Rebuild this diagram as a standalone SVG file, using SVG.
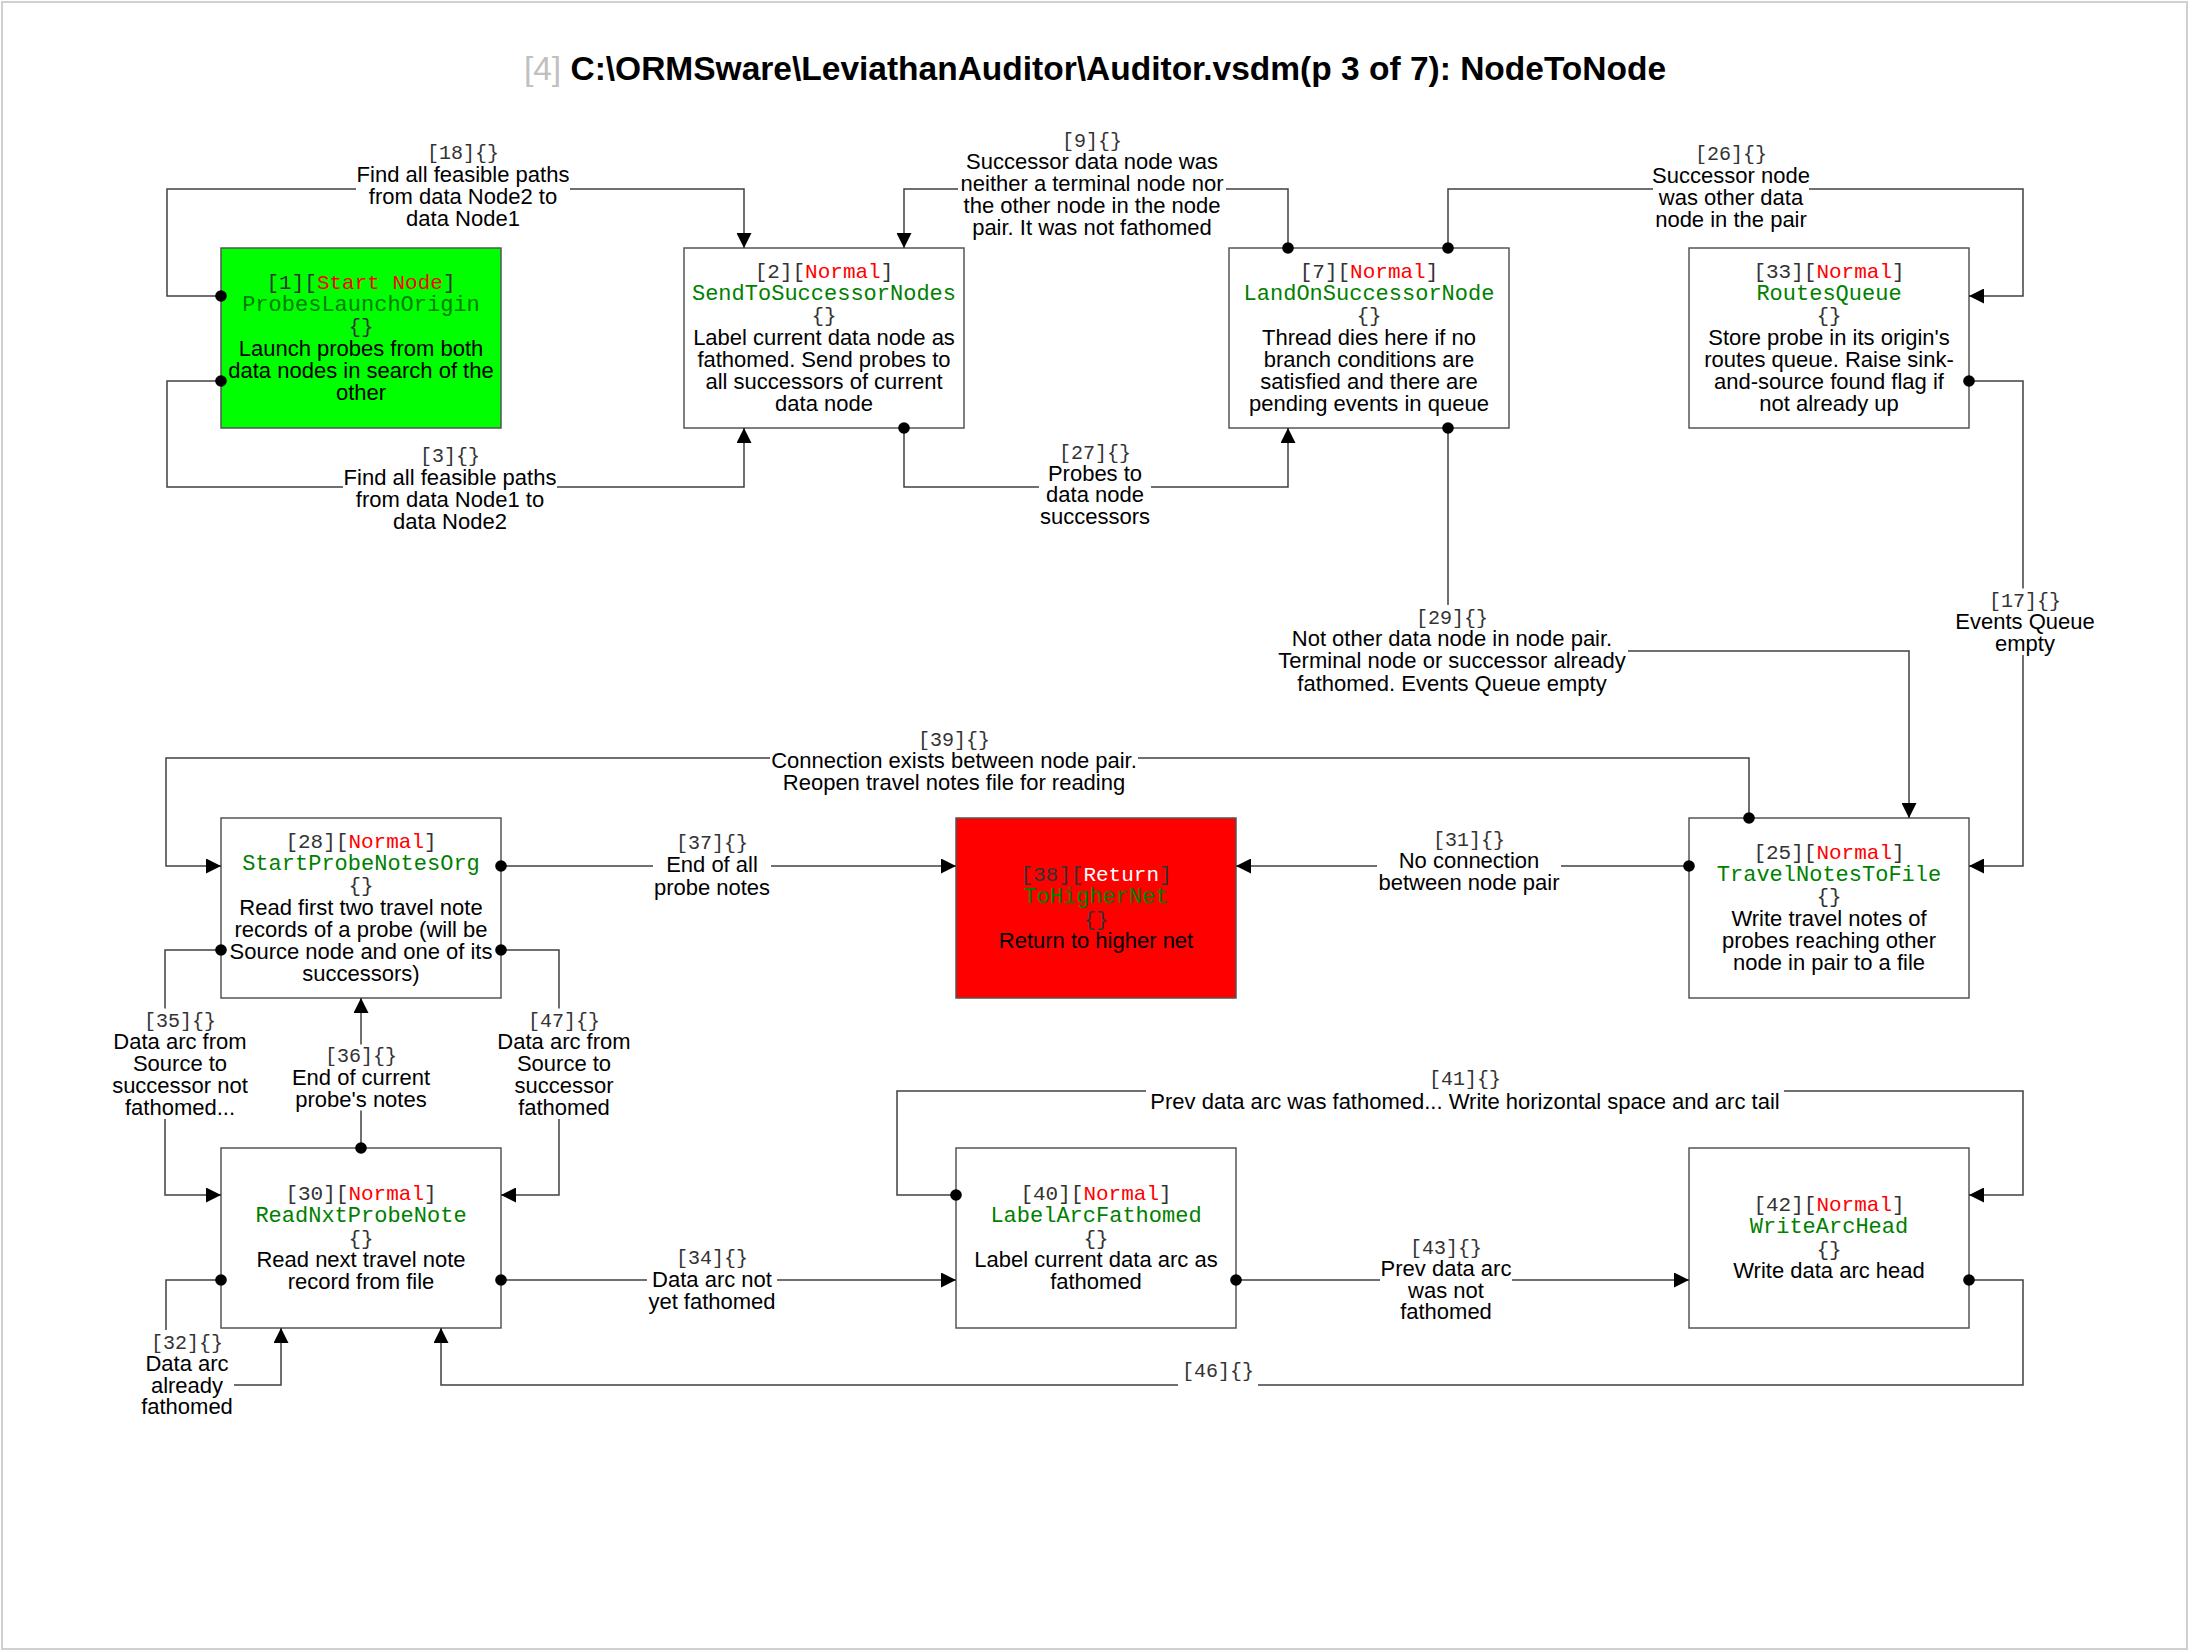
<svg xmlns="http://www.w3.org/2000/svg" width="2190" height="1652" viewBox="0 0 2190 1652">
<style>
.frame{fill:#fff;stroke:#d0d0d0;stroke-width:2}
.box{fill:#fff;stroke:#555;stroke-width:1.5}
text{text-anchor:middle}
.mono{font-family:"Liberation Mono","Courier New",monospace}
.hdr{font-size:21px;fill:#333}
.kind{fill:#ff0000}
.name{font-size:22px;fill:#008000}
.sans{font-family:"Liberation Sans",Arial,sans-serif;font-size:22px;fill:#000}
.lid{font-size:20px;fill:#333}
.wire{fill:none;stroke:#404040;stroke-width:1.5;marker-start:url(#dot);marker-end:url(#arr)}
.bg{fill:#fff}
</style>
<defs>
<marker id="arr" markerUnits="userSpaceOnUse" markerWidth="15" markerHeight="15" refX="15" refY="7.5" orient="auto"><path d="M0,0 L15,7.5 L0,15 z" fill="#000"/></marker>
<marker id="dot" markerUnits="userSpaceOnUse" markerWidth="14" markerHeight="14" refX="7" refY="7" orient="auto"><circle cx="7" cy="7" r="5.8" fill="#000"/></marker>
</defs>
<rect class="frame" x="2" y="2" width="2185" height="1647"/>
<text x="1095" y="80" font-family="Liberation Sans, Arial, sans-serif" font-size="33.5" font-weight="bold" fill="#000"><tspan fill="#c0c0c0" font-weight="normal">[4]</tspan> C:\ORMSware\LeviathanAuditor\Auditor.vsdm(p 3 of 7): NodeToNode</text>

<g id="n1"><rect class="box" x="221" y="248" width="280" height="180" style="fill:#00ff00"/>
<text class="mono hdr" x="361" y="289">[1][<tspan class="kind">Start Node</tspan>]</text>
<text class="mono name" x="361" y="311.2">ProbesLaunchOrigin</text>
<text class="mono hdr" x="361" y="333.4">{}</text>
<text class="sans"><tspan x="361" y="355.6">Launch probes from both</tspan><tspan x="361" y="377.8">data nodes in search of the</tspan><tspan x="361" y="400">other</tspan></text></g>

<g id="n2"><rect class="box" x="684" y="248" width="280" height="180"/>
<text class="mono hdr" x="824" y="277.9">[2][<tspan class="kind">Normal</tspan>]</text>
<text class="mono name" x="824" y="300.1">SendToSuccessorNodes</text>
<text class="mono hdr" x="824" y="322.3">{}</text>
<text class="sans"><tspan x="824" y="344.5">Label current data node as</tspan><tspan x="824" y="366.7">fathomed. Send probes to</tspan><tspan x="824" y="388.9">all successors of current</tspan><tspan x="824" y="411.1">data node</tspan></text></g>

<g id="n7"><rect class="box" x="1229" y="248" width="280" height="180"/>
<text class="mono hdr" x="1369" y="277.9">[7][<tspan class="kind">Normal</tspan>]</text>
<text class="mono name" x="1369" y="300.1">LandOnSuccessorNode</text>
<text class="mono hdr" x="1369" y="322.3">{}</text>
<text class="sans"><tspan x="1369" y="344.5">Thread dies here if no</tspan><tspan x="1369" y="366.7">branch conditions are</tspan><tspan x="1369" y="388.9">satisfied and there are</tspan><tspan x="1369" y="411.1">pending events in queue</tspan></text></g>

<g id="n33"><rect class="box" x="1689" y="248" width="280" height="180"/>
<text class="mono hdr" x="1829" y="277.9">[33][<tspan class="kind">Normal</tspan>]</text>
<text class="mono name" x="1829" y="300.1">RoutesQueue</text>
<text class="mono hdr" x="1829" y="322.3">{}</text>
<text class="sans"><tspan x="1829" y="344.5">Store probe in its origin's</tspan><tspan x="1829" y="366.7">routes queue. Raise sink-</tspan><tspan x="1829" y="388.9">and-source found flag if</tspan><tspan x="1829" y="411.1">not already up</tspan></text></g>

<g id="n28"><rect class="box" x="221" y="818" width="280" height="180"/>
<text class="mono hdr" x="361" y="847.9">[28][<tspan class="kind">Normal</tspan>]</text>
<text class="mono name" x="361" y="870.1">StartProbeNotesOrg</text>
<text class="mono hdr" x="361" y="892.3">{}</text>
<text class="sans"><tspan x="361" y="914.5">Read first two travel note</tspan><tspan x="361" y="936.7">records of a probe (will be</tspan><tspan x="361" y="958.9">Source node and one of its</tspan><tspan x="361" y="981.1">successors)</tspan></text></g>

<g id="n38"><rect class="box" x="956" y="818" width="280" height="180" style="fill:#ff0000"/>
<text class="mono hdr" x="1096" y="881.2">[38][<tspan fill="#ffffff">Return</tspan>]</text>
<text class="mono name" x="1096" y="903.4">ToHigherNet</text>
<text class="mono hdr" x="1096" y="925.6">{}</text>
<text class="sans" x="1096" y="947.8">Return to higher net</text></g>

<g id="n25"><rect class="box" x="1689" y="818" width="280" height="180"/>
<text class="mono hdr" x="1829" y="859">[25][<tspan class="kind">Normal</tspan>]</text>
<text class="mono name" x="1829" y="881.2">TravelNotesToFile</text>
<text class="mono hdr" x="1829" y="903.4">{}</text>
<text class="sans"><tspan x="1829" y="925.6">Write travel notes of</tspan><tspan x="1829" y="947.8">probes reaching other</tspan><tspan x="1829" y="970">node in pair to a file</tspan></text></g>

<g id="n30"><rect class="box" x="221" y="1148" width="280" height="180"/>
<text class="mono hdr" x="361" y="1200.1">[30][<tspan class="kind">Normal</tspan>]</text>
<text class="mono name" x="361" y="1222.3">ReadNxtProbeNote</text>
<text class="mono hdr" x="361" y="1244.5">{}</text>
<text class="sans"><tspan x="361" y="1266.7">Read next travel note</tspan><tspan x="361" y="1288.9">record from file</tspan></text></g>

<g id="n40"><rect class="box" x="956" y="1148" width="280" height="180"/>
<text class="mono hdr" x="1096" y="1200.1">[40][<tspan class="kind">Normal</tspan>]</text>
<text class="mono name" x="1096" y="1222.3">LabelArcFathomed</text>
<text class="mono hdr" x="1096" y="1244.5">{}</text>
<text class="sans"><tspan x="1096" y="1266.7">Label current data arc as</tspan><tspan x="1096" y="1288.9">fathomed</tspan></text></g>

<g id="n42"><rect class="box" x="1689" y="1148" width="280" height="180"/>
<text class="mono hdr" x="1829" y="1211.2">[42][<tspan class="kind">Normal</tspan>]</text>
<text class="mono name" x="1829" y="1233.4">WriteArcHead</text>
<text class="mono hdr" x="1829" y="1255.6">{}</text>
<text class="sans" x="1829" y="1277.8">Write data arc head</text></g>

<g id="connectors">
<path id="c18" class="wire" d="M221,296 H167 V189 H744 V248"/>
<path id="c3" class="wire" d="M221,381 H167 V487 H744 V428"/>
<path id="c9" class="wire" d="M1288,248 V189 H904 V248"/>
<path id="c26" class="wire" d="M1448,248 V189 H2023 V296 H1969"/>
<path id="c27" class="wire" d="M904,428 V487 H1288 V428"/>
<path id="c29" class="wire" d="M1448,428 V651 H1909 V818"/>
<path id="c17" class="wire" d="M1969,381 H2023 V866 H1969"/>
<path id="c39" class="wire" d="M1749,818 V758 H166 V866 H221"/>
<path id="c37" class="wire" d="M501,866 H956"/>
<path id="c31" class="wire" d="M1689,866 H1236"/>
<path id="c35" class="wire" d="M221,950 H165 V1195 H221"/>
<path id="c36" class="wire" d="M361,1148 V998"/>
<path id="c47" class="wire" d="M501,950 H559 V1195 H501"/>
<path id="c32" class="wire" d="M221,1280 H166 V1385 H281 V1328"/>
<path id="c34" class="wire" d="M501,1280 H956"/>
<path id="c46" class="wire" d="M1969,1280 H2023 V1385 H441 V1328"/>
<path id="c41" class="wire" d="M956,1195 H897 V1091 H2023 V1195 H1969"/>
<path id="c43" class="wire" d="M1236,1280 H1689"/>

<g id="l18"><rect class="bg" x="356" y="140.5" width="214" height="89"/>
<text class="mono lid" x="463" y="159">[18]{}</text>
<text class="sans"><tspan x="463" y="181.5">Find all feasible paths</tspan><tspan x="463" y="203.5">from data Node2 to</tspan><tspan x="463" y="225.5">data Node1</tspan></text></g>
<g id="l3"><rect class="bg" x="343" y="443.5" width="214" height="89"/>
<text class="mono lid" x="450" y="462">[3]{}</text>
<text class="sans"><tspan x="450" y="484.5">Find all feasible paths</tspan><tspan x="450" y="506.5">from data Node1 to</tspan><tspan x="450" y="528.5">data Node2</tspan></text></g>
<g id="l9"><rect class="bg" x="958" y="128.5" width="268" height="110.5"/>
<text class="mono lid" x="1092" y="147">[9]{}</text>
<text class="sans"><tspan x="1092" y="169">Successor data node was</tspan><tspan x="1092" y="191">neither a terminal node nor</tspan><tspan x="1092" y="213">the other node in the node</tspan><tspan x="1092" y="235">pair. It was not fathomed</tspan></text></g>
<g id="l26"><rect class="bg" x="1653" y="141.5" width="156" height="89"/>
<text class="mono lid" x="1731" y="160">[26]{}</text>
<text class="sans"><tspan x="1731" y="182.5">Successor node</tspan><tspan x="1731" y="204.5">was other data</tspan><tspan x="1731" y="226.5">node in the pair</tspan></text></g>
<g id="l27"><rect class="bg" x="1039" y="440" width="112" height="88"/>
<text class="mono lid" x="1095" y="458.5">[27]{}</text>
<text class="sans"><tspan x="1095" y="480.5">Probes to</tspan><tspan x="1095" y="502">data node</tspan><tspan x="1095" y="524">successors</tspan></text></g>
<g id="l29"><rect class="bg" x="1276" y="605" width="352" height="89.5"/>
<text class="mono lid" x="1452" y="623.5">[29]{}</text>
<text class="sans"><tspan x="1452" y="645.5">Not other data node in node pair.</tspan><tspan x="1452" y="668">Terminal node or successor already</tspan><tspan x="1452" y="690.5">fathomed. Events Queue empty</tspan></text></g>
<g id="l17"><rect class="bg" x="1954" y="588.5" width="142" height="66.5"/>
<text class="mono lid" x="2025" y="607">[17]{}</text>
<text class="sans"><tspan x="2025" y="629">Events Queue</tspan><tspan x="2025" y="651">empty</tspan></text></g>
<g id="l39"><rect class="bg" x="770" y="727.5" width="368" height="66"/>
<text class="mono lid" x="954" y="746">[39]{}</text>
<text class="sans"><tspan x="954" y="768">Connection exists between node pair.</tspan><tspan x="954" y="789.5">Reopen travel notes file for reading</tspan></text></g>
<g id="l37"><rect class="bg" x="653" y="830.5" width="118" height="68"/>
<text class="mono lid" x="712" y="849">[37]{}</text>
<text class="sans"><tspan x="712" y="872">End of all</tspan><tspan x="712" y="894.5">probe notes</tspan></text></g>
<g id="l31"><rect class="bg" x="1377" y="827.5" width="184" height="66"/>
<text class="mono lid" x="1469" y="846">[31]{}</text>
<text class="sans"><tspan x="1469" y="868">No connection</tspan><tspan x="1469" y="889.5">between node pair</tspan></text></g>
<g id="l35"><rect class="bg" x="111" y="1008.5" width="138" height="110.5"/>
<text class="mono lid" x="180" y="1027">[35]{}</text>
<text class="sans"><tspan x="180" y="1049">Data arc from</tspan><tspan x="180" y="1071">Source to</tspan><tspan x="180" y="1093">successor not</tspan><tspan x="180" y="1115">fathomed...</tspan></text></g>
<g id="l36"><rect class="bg" x="291" y="1044.5" width="140" height="66"/>
<text class="mono lid" x="361" y="1062">[36]{}</text>
<text class="sans"><tspan x="361" y="1085">End of current</tspan><tspan x="361" y="1107">probe's notes</tspan></text></g>
<g id="l47"><rect class="bg" x="496" y="1008.5" width="136" height="110.5"/>
<text class="mono lid" x="564" y="1027">[47]{}</text>
<text class="sans"><tspan x="564" y="1049">Data arc from</tspan><tspan x="564" y="1071">Source to</tspan><tspan x="564" y="1093">successor</tspan><tspan x="564" y="1115">fathomed</tspan></text></g>
<g id="l32"><rect class="bg" x="140" y="1330" width="94" height="88"/>
<text class="mono lid" x="187" y="1348.5">[32]{}</text>
<text class="sans"><tspan x="187" y="1370.5">Data arc</tspan><tspan x="187" y="1392.5">already</tspan><tspan x="187" y="1414">fathomed</tspan></text></g>
<g id="l34"><rect class="bg" x="647" y="1246.5" width="130" height="65.5"/>
<text class="mono lid" x="712" y="1264">[34]{}</text>
<text class="sans"><tspan x="712" y="1287">Data arc not</tspan><tspan x="712" y="1308.5">yet fathomed</tspan></text></g>
<g id="l46"><rect class="bg" x="1178" y="1358" width="80" height="46"/>
<text class="mono lid" x="1218" y="1377">[46]{}</text></g>
<g id="l41"><rect class="bg" x="1146" y="1066.5" width="638" height="46"/>
<text class="mono lid" x="1465" y="1085">[41]{}</text>
<text class="sans"><tspan x="1465" y="1108.5">Prev data arc was fathomed... Write horizontal space and arc tail</tspan></text></g>
<g id="l43"><rect class="bg" x="1380" y="1235" width="132" height="88"/>
<text class="mono lid" x="1446" y="1253.5">[43]{}</text>
<text class="sans"><tspan x="1446" y="1276">Prev data arc</tspan><tspan x="1446" y="1297.5">was not</tspan><tspan x="1446" y="1319">fathomed</tspan></text></g>
</g>
</svg>
